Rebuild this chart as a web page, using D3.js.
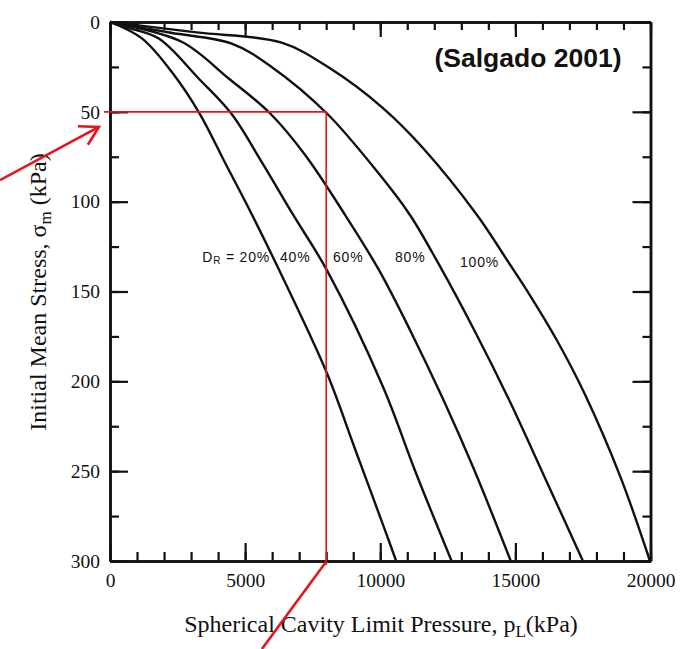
<!DOCTYPE html>
<html>
<head>
<meta charset="utf-8">
<script src="https://cdn.jsdelivr.net/npm/d3@7"></script>
<style>
  body { margin: 0; background: #fff; }
  svg { display: block; }
</style>
</head>
<body>
<div id="chart"></div>
<script>
// curve values: pL (kPa) against initial mean stress (kPa)
var dr = ["20%", "40%", "60%", "80%", "100%"];

var pl20  = [0, 1180, 2280, 3310, 4300, 5110, 6560, 8025, 9080, 10175, 10590];
var sig20 = [0, 9.1, 27.7, 50.8, 79.6, 103, 147.5, 195.4, 238.2, 282.8, 300];

var pl40  = [0, 600, 1790, 3270, 4480, 5610, 6780, 8020, 10100, 11320, 12640];
var sig40 = [0, 3, 9.1, 31.3, 50.8, 77.8, 107.4, 138, 203, 251, 300];

var pl60  = [0, 2650, 4380, 5920, 7220, 8700, 9950, 11100, 12340, 13480, 14830];
var sig60 = [0, 11, 31.3, 50.8, 74, 107.4, 138, 171.4, 210.4, 249.4, 300];

var pl80  = [0, 2250, 4500, 5980, 8020, 9990, 11100, 12140, 13475, 14770, 16130, 17500];
var sig80 = [0, 6, 12, 25, 50.8, 85.2, 107.4, 134.1, 171.4, 210.4, 254.9, 300];

var pl100  = [0, 3200, 6350, 8140, 10100, 11580, 13580, 14760, 15580, 16530, 17550, 18890, 19980];
var sig100 = [0, 5.8, 11.5, 25.8, 47.9, 70.1, 107.4, 134.1, 153.1, 177, 206.5, 253.3, 300];

var xTicks = [0, 5000, 10000, 15000, 20000];
var yTicks = [0, 50, 100, 150, 200, 250, 300];

// red reading lines (data units)
var readP = 8000, readS = 50;

var W = 683, H = 649;
var x = d3.scaleLinear().domain([0, 20000]).range([110, 650.5]);
var y = d3.scaleLinear().domain([0, 300]).range([22, 561]);

var svg = d3.select('#chart').append('svg')
    .attr('width', W).attr('height', H);

svg.append('rect').attr('width', W).attr('height', H).attr('fill', '#fff');

var series = [
    {label: dr[0], p: pl20, s: sig20},
    {label: dr[1], p: pl40, s: sig40},
    {label: dr[2], p: pl60, s: sig60},
    {label: dr[3], p: pl80, s: sig80},
    {label: dr[4], p: pl100, s: sig100}
];

var line = d3.line()
    .x(function (d) { return x(d[0]); })
    .y(function (d) { return y(d[1]); })
    .curve(d3.curveCatmullRom.alpha(0.5));

svg.selectAll('path.curve').data(series)
    .enter().append('path')
    .attr('class', 'curve')
    .attr('fill', 'none')
    .attr('stroke', '#111')
    .attr('stroke-width', 2.4)
    .attr('d', function (d) {
        return line(d.p.map(function (v, i) { return [v, d.s[i]]; }));
    });

// axes: major + minor ticks, all pointing inwards
var minorX = d3.range(0, 20001, 1000);
var minorY = d3.range(0, 301, 25);

function styleAxis(g) {
    g.select('.domain').attr('stroke', '#111').attr('stroke-width', 2.5);
    g.selectAll('.tick line').attr('stroke', '#111').attr('stroke-width', 2.2);
}

var axBottomMinor = svg.append('g').attr('transform', 'translate(0,' + y(300) + ')')
    .call(d3.axisBottom(x).tickValues(minorX).tickSizeInner(-9).tickSizeOuter(0).tickFormat(''));
var axBottom = svg.append('g').attr('transform', 'translate(0,' + y(300) + ')')
    .call(d3.axisBottom(x).tickValues(xTicks).tickSizeInner(-18).tickSizeOuter(0).tickPadding(12)
        .tickFormat(d3.format('d')));
var axTopMinor = svg.append('g').attr('transform', 'translate(0,' + y(0) + ')')
    .call(d3.axisTop(x).tickValues(minorX).tickSizeInner(-8).tickSizeOuter(0).tickFormat(''));
var axTop = svg.append('g').attr('transform', 'translate(0,' + y(0) + ')')
    .call(d3.axisTop(x).tickValues(xTicks).tickSizeInner(-15).tickSizeOuter(0).tickFormat(''));
var axLeftMinor = svg.append('g').attr('transform', 'translate(' + x(0) + ',0)')
    .call(d3.axisLeft(y).tickValues(minorY).tickSizeInner(-9).tickSizeOuter(0).tickFormat(''));
var axLeft = svg.append('g').attr('transform', 'translate(' + x(0) + ',0)')
    .call(d3.axisLeft(y).tickValues(yTicks).tickSizeInner(-18).tickSizeOuter(0).tickPadding(10)
        .tickFormat(d3.format('d')));
var axRightMinor = svg.append('g').attr('transform', 'translate(' + x(20000) + ',0)')
    .call(d3.axisRight(y).tickValues(minorY).tickSizeInner(-8).tickSizeOuter(0).tickFormat(''));
var axRight = svg.append('g').attr('transform', 'translate(' + x(20000) + ',0)')
    .call(d3.axisRight(y).tickValues(yTicks).tickSizeInner(-18).tickSizeOuter(0).tickFormat(''));

[axBottomMinor, axBottom, axTopMinor, axTop, axLeftMinor, axLeft, axRightMinor, axRight].forEach(styleAxis);

[axBottom, axLeft].forEach(function (g) {
    g.attr('font-family', '"Liberation Serif", "Times New Roman", serif').attr('font-size', 19.5);
    g.selectAll('.tick text').attr('fill', '#111');
});

// axis titles
var xt = svg.append('text')
    .attr('font-family', '"Liberation Serif", "Times New Roman", serif')
    .attr('font-size', 24).attr('fill', '#111')
    .attr('x', 381).attr('y', 632).attr('text-anchor', 'middle');
xt.append('tspan').text('Spherical Cavity Limit Pressure, p');
xt.append('tspan').attr('font-size', 17).attr('dy', 5).text('L');
xt.append('tspan').attr('dy', -5).text('(kPa)');

var yt = svg.append('text')
    .attr('font-family', '"Liberation Serif", "Times New Roman", serif')
    .attr('font-size', 24).attr('fill', '#111')
    .attr('text-anchor', 'middle')
    .attr('transform', 'translate(46,292) rotate(-90)');
yt.append('tspan').text('Initial Mean Stress, \u03c3');
yt.append('tspan').attr('font-size', 17).attr('dy', 5).text('m');
yt.append('tspan').attr('dy', -5).text(' (kPa)');

// curve labels
var lab = svg.append('g')
    .attr('font-family', '"Liberation Sans", Arial, sans-serif')
    .attr('font-size', 14).attr('letter-spacing', 0.8).attr('fill', '#111');
var l20 = lab.append('text').attr('x', x(5920)).attr('y', y(133.6)).attr('text-anchor', 'end');
l20.append('tspan').text('D');
l20.append('tspan').attr('font-size', 10).attr('dy', 2).text('R');
l20.append('tspan').attr('dy', -2).text(' = ' + dr[0]);
lab.append('text').attr('x', x(6290)).attr('y', y(133.6)).text(dr[1]);
lab.append('text').attr('x', x(8250)).attr('y', y(133.6)).text(dr[2]);
lab.append('text').attr('x', x(10545)).attr('y', y(133.6)).text(dr[3]);
lab.append('text').attr('x', x(12950)).attr('y', y(136.4)).text(dr[4]);

// source note
svg.append('text')
    .attr('font-family', '"Liberation Sans", Arial, sans-serif')
    .attr('font-weight', 'bold').attr('font-size', 26.5).attr('fill', '#111')
    .attr('x', 528).attr('y', 67).attr('text-anchor', 'middle')
    .text('(Salgado 2001)');

// red reading lines
var red = svg.append('g').attr('stroke', '#e8141c').attr('fill', 'none');
red.append('path').attr('stroke-width', 1.6)
    .attr('d', 'M' + (x(0) - 6) + ',' + y(readS) + 'H' + x(readP) + 'V' + (y(300) + 4));

// red arrows (data units, partly outside the axes)
var arrowA = [[-4070, 88], [-410, 58.4]];
var arrowB = [[7990, 300.6], [5620, 349]];
red.append('path').attr('stroke-width', 2.6)
    .attr('d', d3.line()(arrowA.map(function (d) { return [x(d[0]), y(d[1])]; })));
red.append('path').attr('stroke-width', 2.6)
    .attr('d', d3.line()(arrowB.map(function (d) { return [x(d[0]), y(d[1])]; })));
(function () {
    var x0 = x(arrowA[0][0]), y0 = y(arrowA[0][1]);
    var x1 = x(arrowA[1][0]), y1 = y(arrowA[1][1]);
    var a = Math.atan2(y0 - y1, x0 - x1), len = 21, sp = Math.PI / 6;
    red.append('path').attr('stroke-width', 2.6)
        .attr('d', 'M' + (x1 + len * Math.cos(a + sp)) + ',' + (y1 + len * Math.sin(a + sp)) +
            'L' + x1 + ',' + y1 +
            'L' + (x1 + len * Math.cos(a - sp)) + ',' + (y1 + len * Math.sin(a - sp)));
})();
</script>
</body>
</html>
